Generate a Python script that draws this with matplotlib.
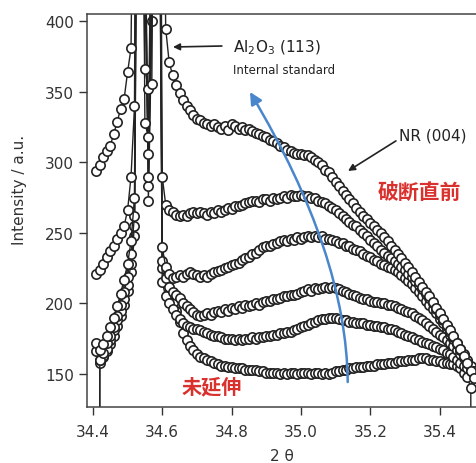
import numpy as np
import matplotlib
matplotlib.use("Agg")
import matplotlib.pyplot as plt
from matplotlib.patches import FancyArrowPatch
from matplotlib.path import Path

plt.rcParams['font.family'] = ['DejaVu Sans', 'Noto Sans CJK JP']

# ---- data: 2theta scan grid (0.01 deg step) ----
two_theta = np.round(np.arange(34.41, 35.505, 0.01), 2)

# curve A: just before fracture (top)
curve_a = [294, 298, 304, 308, 312, 320, 329, 338, 345, 364,
           381, 620, 900, 560, 366, 352, 356, 700, 950, 620,
           395, 371, 362, 355, 349, 344, 340, 337, 334, 331,
           330, 328, 327, 326, 327, 325, 324, 326, 323, 327,
           326, 324, 325, 323, 324, 322, 321, 320, 319, 318,
           316, 315, 314, 312, 311, 309, 308, 307, 306, 306,
           305, 305, 304, 302, 300, 298, 295, 293, 290, 286,
           283, 280, 277, 274, 271, 268, 265, 262, 260, 257,
           255, 252, 250, 247, 244, 241, 238, 235, 232, 229,
           226, 222, 219, 215, 212, 208, 205, 201, 197, 193,
           189, 185, 181, 177, 172, 168, 163, 158, 152, 147]
curve_b = [221, 224, 228, 233, 237, 241, 246, 250, 255, 266,
           290, 340, 1000, 700, 328, 318, 520, 1100, 800, 290,
           270, 266, 265, 263, 262, 263, 262, 264, 265, 264,
           265, 264, 263, 265, 264, 266, 265, 266, 268, 267,
           269, 269, 270, 271, 272, 273, 273, 272, 274, 274,
           273, 275, 274, 275, 276, 275, 277, 276, 276, 277,
           276, 276, 275, 275, 273, 272, 271, 269, 268, 266,
           264, 262, 260, 258, 256, 255, 252, 250, 248, 245,
           243, 241, 238, 236, 234, 232, 230, 228, 226, 224,
           221, 219, 216, 213, 210, 207, 204, 200, 196, 192,
           188, 184, 180, 176, 172, 168, 164, 160, 156, 152]
curve_c = [172, 167, 171, 177, 183, 190, 198, 207, 217, 228,
           244, 275, 800, 1100, 420, 306, 480, 1200, 700, 240,
           226, 221, 218, 219, 220, 219, 221, 222, 221, 220,
           219, 220, 219, 221, 222, 223, 224, 225, 226, 227,
           228, 229, 231, 232, 233, 235, 236, 238, 240, 241,
           241, 242, 243, 244, 245, 244, 246, 245, 247, 246,
           247, 248, 247, 248, 247, 248, 246, 246, 245, 244,
           243, 243, 241, 241, 239, 238, 237, 235, 234, 233,
           231, 230, 228, 227, 226, 225, 224, 222, 220, 218,
           216, 214, 211, 208, 205, 202, 199, 196, 193, 189,
           186, 182, 178, 175, 171, 167, 163, 159, 155, 151]
curve_d = [166, 160, 165, 172, 177, 183, 191, 199, 208, 219,
           235, 262, 700, 1100, 460, 290, 440, 1100, 650, 230,
           218, 212, 208, 206, 204, 200, 198, 196, 194, 192,
           191, 192, 193, 192, 194, 195, 194, 196, 195, 197,
           196, 198, 197, 199, 198, 199, 200, 199, 201, 202,
           202, 203, 203, 204, 205, 205, 206, 206, 207, 208,
           209, 210, 209, 211, 210, 211, 212, 211, 212, 211,
           210, 209, 208, 207, 206, 205, 204, 203, 203, 202,
           201, 201, 200, 200, 199, 199, 198, 197, 196, 195,
           194, 193, 191, 190, 188, 186, 184, 182, 180, 178,
           176, 174, 172, 170, 167, 164, 161, 158, 155, 152]
curve_e = [-2000, 160, 163, 168, 174, 181, 188, 195, 203, 213,
           228, 255, 650, 1000, 480, 283, 420, 1000, 600, 215,
           205, 200, 196, 192, 189, 186, 184, 183, 182, 182,
           181, 180, 179, 178, 177, 177, 176, 175, 175, 175,
           174, 175, 174, 175, 175, 176, 175, 176, 176, 177,
           177, 178, 178, 179, 179, 180, 180, 181, 182, 183,
           184, 185, 186, 187, 188, 189, 189, 190, 190, 190,
           189, 188, 188, 187, 187, 186, 186, 186, 185, 185,
           184, 184, 183, 183, 182, 182, 181, 180, 179, 178,
           177, 176, 175, 174, 173, 172, 171, 170, 169, 168,
           167, 165, 164, 162, 160, 158, 156, 154, 152, 150]
# curve F: unstretched (bottom)
curve_f = [-2000, 158, 162, 166, 171, 177, 184, 191, 199, 209,
           222, 248, 600, 950, 500, 273, 400, 950, 560, 225,
           215, 207, 200, 195, 187, 179, 174, 170, 167, 164,
           162, 161, 160, 159, 158, 157, 156, 156, 155, 155,
           154, 154, 154, 153, 153, 153, 153, 152, 152, 151,
           151, 151, 151, 150, 151, 150, 151, 151, 150, 151,
           151, 151, 150, 151, 151, 150, 151, 150, 151, 152,
           152, 153, 153, 154, 154, 155, 155, 155, 156, 156,
           156, 157, 157, 157, 158, 158, 158, 159, 159, 159,
           160, 160, 160, 161, 161, 161, 160, 160, 159, 159,
           158, 158, 157, 157, 156, 154, 151, 148, 140, -2000]

curves = [curve_f, curve_e, curve_d, curve_c, curve_b, curve_a]

x_ticks = [34.4, 34.6, 34.8, 35.0, 35.2, 35.4]
y_ticks = [150, 200, 250, 300, 350, 400]

fig = plt.figure(figsize=(4.76, 4.64), dpi=100)
ax = fig.add_axes([87/476, 56/464, 389/476, 393/464])

for c in curves:
    ax.plot(two_theta, c, color='#222222', lw=1.0, marker='o', ms=6.7,
            mfc='white', mec='#222222', mew=1.2)

ax.set_xlim(34.383, 35.505)
ax.set_ylim(126.6, 405.3)
ax.set_xticks(x_ticks)
ax.set_xticklabels([f"{t:.1f}" for t in x_ticks])
ax.set_yticks(y_ticks)
ax.tick_params(axis='both', direction='out', length=6, width=1.0,
               labelsize=11, colors='#333333')
ax.tick_params(axis='x', pad=6)
ax.tick_params(axis='y', pad=3.5)
for s in ['left', 'bottom', 'top']:
    ax.spines[s].set_color('#444444')
    ax.spines[s].set_linewidth(1.1)
ax.spines['right'].set_visible(False)

ax.set_ylabel('Intensity / a.u.', fontsize=11, color='#333333')
ax.yaxis.set_label_coords(-0.154, 0.555)
ax.set_xlabel('2 θ', fontsize=11, color='#333333')
ax.xaxis.set_label_coords(0.5, -0.104)

# annotations
ax.text(34.804, 381.9, 'Al$_2$O$_3$ (113)', fontsize=11, va='center',
        ha='left', color='#222222')
ax.text(34.804, 365.6, 'Internal standard', fontsize=8.5, va='center',
        ha='left', color='#222222')
ax.annotate('', xy=(34.631, 381.9), xytext=(34.772, 382.6),
            arrowprops=dict(arrowstyle='-|>', mutation_scale=10, lw=1.2,
                            color='#222222', shrinkA=0, shrinkB=0))
ax.text(35.283, 319.5, 'NR (004)', fontsize=11, va='center', ha='left',
        color='#222222')
ax.annotate('', xy=(35.136, 294.0), xytext=(35.274, 315.3),
            arrowprops=dict(arrowstyle='-|>', mutation_scale=10, lw=1.2,
                            color='#222222', shrinkA=0, shrinkB=0))
ax.text(35.2225, 279.8, '破断直前', fontsize=15, fontweight='bold',
        va='center', ha='left', color='#d9312e',
        family=['Noto Sans CJK JP'])
ax.text(34.657, 141.5, '未延伸', fontsize=14.5, fontweight='bold',
        va='center', ha='left', color='#d9312e',
        family=['Noto Sans CJK JP'])

blue_path = Path([(35.135, 144.3), (35.132, 235.0), (34.853, 350.0)],
                 [Path.MOVETO, Path.CURVE3, Path.CURVE3])
arrow = FancyArrowPatch(path=blue_path, arrowstyle='-|>', mutation_scale=18,
                        lw=1.8, color='#4a86cc', zorder=5)
ax.add_patch(arrow)

fig.savefig('out.png', dpi=100)
